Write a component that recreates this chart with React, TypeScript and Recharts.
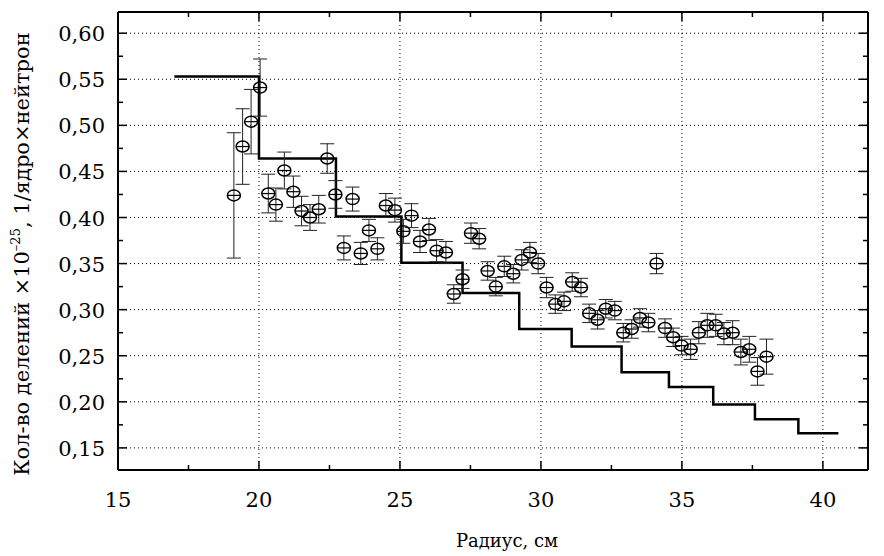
import React from 'react';
import {
  ComposedChart,
  Scatter,
  Line,
  XAxis,
  YAxis,
  ErrorBar,
  ReferenceLine,
  Label,
} from 'recharts';

// измеренные точки: радиус, кол-во делений, погрешность
const radius = [
  19.11, 19.42, 19.72, 20.04, 20.33, 20.6, 20.9, 21.22, 21.51, 21.81, 22.12, 22.42, 22.71, 23.01, 23.32, 23.61,
  23.9, 24.2, 24.5, 24.82, 25.12, 25.41, 25.71, 26.03, 26.3, 26.63, 26.91, 27.22, 27.52, 27.81, 28.11, 28.4,
  28.7, 29.02, 29.32, 29.61, 29.9, 30.2, 30.51, 30.82, 31.11, 31.42, 31.71, 32.01, 32.3, 32.62, 32.92, 33.22,
  33.51, 33.81, 34.1, 34.4, 34.69, 34.99, 35.31, 35.6, 35.9, 36.2, 36.49, 36.8, 37.09, 37.39, 37.68, 38.0,
];
const fissions = [
  0.424, 0.477, 0.504, 0.541, 0.426, 0.414, 0.451, 0.428, 0.407, 0.4, 0.409, 0.464, 0.425, 0.367, 0.42, 0.361,
  0.386, 0.366, 0.413, 0.408, 0.385, 0.402, 0.374, 0.387, 0.364, 0.362, 0.317, 0.333, 0.383, 0.377, 0.342, 0.325,
  0.347, 0.339, 0.354, 0.362, 0.35, 0.324, 0.306, 0.309, 0.33, 0.324, 0.296, 0.289, 0.301, 0.299, 0.275, 0.279,
  0.291, 0.286, 0.35, 0.28, 0.27, 0.261, 0.257, 0.275, 0.283, 0.283, 0.274, 0.275, 0.254, 0.257, 0.233, 0.249,
];
const errors = [
  0.068, 0.041, 0.035, 0.031, 0.021, 0.018, 0.02, 0.017, 0.016, 0.014, 0.015, 0.016, 0.015, 0.013, 0.013, 0.012,
  0.012, 0.012, 0.013, 0.013, 0.013, 0.013, 0.012, 0.012, 0.012, 0.012, 0.01, 0.01, 0.011, 0.011, 0.01, 0.01,
  0.011, 0.01, 0.011, 0.011, 0.011, 0.011, 0.01, 0.01, 0.01, 0.01, 0.01, 0.01, 0.01, 0.01, 0.01, 0.01,
  0.01, 0.01, 0.011, 0.01, 0.01, 0.01, 0.011, 0.012, 0.013, 0.012, 0.012, 0.013, 0.014, 0.014, 0.015, 0.019,
];

// расчёт (ступенчатая линия)
const stepX = [17.0, 20.0, 22.73, 25.05, 27.22, 29.23, 31.09, 32.86, 34.54, 36.11, 37.59, 39.13, 40.55];
const stepY = [0.553, 0.464, 0.401, 0.351, 0.318, 0.279, 0.26, 0.232, 0.216, 0.197, 0.181, 0.166, 0.166];

const xMajor = [15, 20, 25, 30, 35, 40];
const xMinor = [17.5, 22.5, 27.5, 32.5, 37.5];
const yMajor = [0.15, 0.2, 0.25, 0.3, 0.35, 0.4, 0.45, 0.5, 0.55, 0.6];
const yMinor = [0.175, 0.225, 0.275, 0.325, 0.375, 0.425, 0.475, 0.525, 0.575];

const FONT = 'DejaVu Serif';

const points = radius.map((r, i) => ({ x: r, y: fissions[i], err: errors[i] }));
const stepData = stepX.map((x, i) => ({ x, y: stepY[i] }));

const isMajor = (list: number[], v: number) => list.some((m) => Math.abs(m - v) < 1e-6);

const BottomTick = (props: any) => {
  const { x, y, payload } = props;
  const major = isMajor(xMajor, payload.value);
  return (
    <g>
      <line x1={x} x2={x} y1={y} y2={y - (major ? 9 : 5)} stroke="#000" strokeWidth={1.5} />
      {major && (
        <text x={x} y={y + 37} textAnchor="middle" fontFamily={FONT} fontSize={21} fill="#000">
          {payload.value}
        </text>
      )}
    </g>
  );
};

const TopTick = (props: any) => {
  const { x, y, payload } = props;
  const major = isMajor(xMajor, payload.value);
  return <line x1={x} x2={x} y1={y} y2={y + (major ? 9 : 5)} stroke="#000" strokeWidth={1.5} />;
};

const LeftTick = (props: any) => {
  const { x, y, payload } = props;
  const major = isMajor(yMajor, payload.value);
  return (
    <g>
      <line x1={x} x2={x + (major ? 9 : 5)} y1={y} y2={y} stroke="#000" strokeWidth={1.5} />
      {major && (
        <text x={x - 13} y={y + 8} textAnchor="end" fontFamily={FONT} fontSize={21} fill="#000">
          {payload.value.toFixed(2).replace('.', ',')}
        </text>
      )}
    </g>
  );
};

const RightTick = (props: any) => {
  const { x, y, payload } = props;
  const major = isMajor(yMajor, payload.value);
  return <line x1={x} x2={x - (major ? 9 : 5)} y1={y} y2={y} stroke="#000" strokeWidth={1.5} />;
};

const renderYLabel = (props: any) => {
  const vb = props.viewBox || { x: 0, y: 0, width: 118, height: 458 };
  const cx = vb.x + 29;
  const cy = vb.y + vb.height / 2 + 13;
  return (
    <text
      x={cx}
      y={cy}
      transform={`rotate(-90, ${cx}, ${cy})`}
      textAnchor="middle"
      fontFamily={FONT}
      fontSize={21}
      fill="#000"
    >
      Кол-во делений ×10
      <tspan dy={-9} fontSize={13}>
        –25
      </tspan>
      <tspan dy={9}>, 1/ядро×нейтрон</tspan>
    </text>
  );
};

const renderXLabel = (props: any) => {
  const vb = props.viewBox || { x: 118, y: 470, width: 750, height: 86 };
  return (
    <text x={vb.x + vb.width / 2 + 14} y={vb.y + 77} textAnchor="middle" fontFamily={FONT} fontSize={18} fill="#000">
      Радиус, см
    </text>
  );
};

const Marker = (props: any) => {
  const { cx, cy } = props;
  if (cx == null || cy == null) return null;
  return (
    <g>
      <ellipse cx={cx} cy={cy} rx={6.5} ry={5.5} fill="none" stroke="#000" strokeWidth={1.5} />
      <line x1={cx - 6.5} x2={cx + 6.5} y1={cy} y2={cy} stroke="#000" strokeWidth={1.2} />
    </g>
  );
};

export default function App() {
  const xTicks = [...xMajor, ...xMinor].sort((a, b) => a - b);
  const yTicks = [...yMajor, ...yMinor].sort((a, b) => a - b);
  return (
    <div style={{ position: 'absolute', left: 0, top: 0, width: 884, height: 556, background: '#fff' }}>
      <ComposedChart width={884} height={556} margin={{ top: 0, right: 0, bottom: 0, left: 0 }}>
        <XAxis
          xAxisId={0}
          dataKey="x"
          type="number"
          domain={[15, 41.6]}
          ticks={xTicks}
          interval={0}
          height={86}
          tickSize={0}
          tickMargin={0}
          tickLine={false}
          tick={<BottomTick />}
          axisLine={{ stroke: '#000', strokeWidth: 2 }}
          allowDataOverflow
        >
          <Label content={renderXLabel} />
        </XAxis>
        <XAxis
          xAxisId="top"
          orientation="top"
          dataKey="x"
          type="number"
          domain={[15, 41.6]}
          ticks={xTicks}
          interval={0}
          height={12}
          tickSize={0}
          tickMargin={0}
          tickLine={false}
          tick={<TopTick />}
          axisLine={{ stroke: '#000', strokeWidth: 2 }}
          allowDataOverflow
        />
        <YAxis
          yAxisId={0}
          dataKey="y"
          type="number"
          domain={[0.126, 0.623]}
          ticks={yTicks}
          interval={0}
          width={118}
          tickSize={0}
          tickMargin={0}
          tickLine={false}
          tick={<LeftTick />}
          axisLine={{ stroke: '#000', strokeWidth: 2 }}
          allowDataOverflow
        >
          <Label content={renderYLabel} />
        </YAxis>
        <YAxis
          yAxisId="right"
          orientation="right"
          type="number"
          domain={[0.126, 0.623]}
          ticks={yTicks}
          interval={0}
          width={16}
          tickSize={0}
          tickMargin={0}
          tickLine={false}
          tick={<RightTick />}
          axisLine={{ stroke: '#000', strokeWidth: 2 }}
          allowDataOverflow
        />
        {xMajor.slice(1).map((v) => (
          <ReferenceLine key={`gx-${v}`} x={v} stroke="#000" strokeWidth={1} strokeDasharray="1 3" />
        ))}
        {yMajor.map((v) => (
          <ReferenceLine key={`gy-${v}`} y={v} stroke="#000" strokeWidth={1} strokeDasharray="1 3" />
        ))}
        <Line
          data={stepData}
          dataKey="y"
          type="stepAfter"
          stroke="#000"
          strokeWidth={2.5}
          dot={false}
          activeDot={false}
          isAnimationActive={false}
        />
        <Scatter data={points} dataKey="y" shape={<Marker />} isAnimationActive={false}>
          <ErrorBar dataKey="err" direction="y" width={7} stroke="#222" strokeWidth={1} isAnimationActive={false} />
        </Scatter>
      </ComposedChart>
    </div>
  );
}
